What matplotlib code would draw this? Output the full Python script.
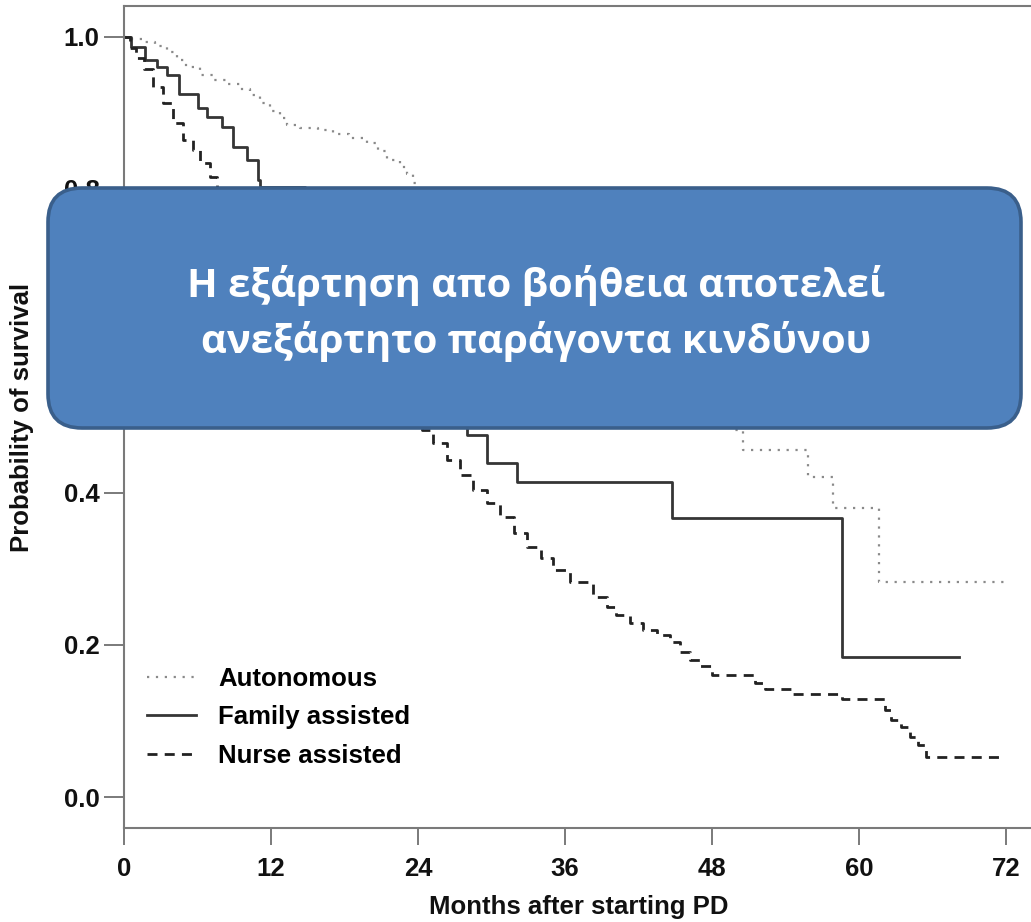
import matplotlib
matplotlib.use("Agg")
import matplotlib.pyplot as plt
from matplotlib.patches import FancyBboxPatch

# Kaplan-Meier survival estimates: month of each step and survival after it
auto_months = [0, 0.5, 1.5, 2.5, 3.5, 4.3, 5.1, 6.2, 7.3, 8.4, 9.5, 10.3, 11.1, 11.9,
               12.7, 13.3, 14.4, 15.8, 17.1, 18.4, 19.8, 20.7, 21.5, 22.5, 23.1, 23.6,
               24.0, 26.0, 28.0, 30.0, 32.0, 34.0, 36.0, 38.0, 40.0, 42.0, 44.0, 46.0,
               48.0, 49.5, 50.5, 55.8, 57.9, 61.6, 71.9]
auto_surv = [1.0, 0.997, 0.993, 0.988, 0.980, 0.970, 0.960, 0.950, 0.943, 0.938, 0.932,
             0.924, 0.913, 0.903, 0.893, 0.884, 0.880, 0.877, 0.873, 0.867, 0.860, 0.850,
             0.838, 0.829, 0.820, 0.808, 0.795, 0.770, 0.740, 0.710, 0.680, 0.660, 0.630,
             0.600, 0.580, 0.560, 0.540, 0.520, 0.500, 0.483, 0.457, 0.421, 0.380, 0.283,
             0.283]

family_months = [0, 0.6, 1.7, 2.7, 3.5, 4.5, 6.0, 6.8, 8.0, 8.9, 10.0, 10.9, 11.1,
                 14.8, 16.5, 18.5, 20.5, 22.5, 24.5, 26.0, 28.0, 29.6, 32.1, 44.7,
                 58.6, 68.2]
family_surv = [1.0, 0.987, 0.970, 0.960, 0.950, 0.925, 0.907, 0.895, 0.882, 0.855,
               0.838, 0.812, 0.803, 0.760, 0.720, 0.680, 0.640, 0.600, 0.560, 0.520,
               0.476, 0.439, 0.414, 0.367, 0.184, 0.184]

nurse_months = [0, 0.5, 1.0, 1.6, 2.4, 3.2, 4.0, 4.8, 5.6, 6.2, 7.0, 7.6, 9.0, 10.5,
                12.0, 13.5, 15.0, 16.5, 18.0, 19.5, 21.0, 22.5, 24.3, 25.2, 26.4, 27.4,
                28.5, 29.6, 30.7, 31.8, 32.9, 34.0, 35.0, 36.4, 38.3, 39.4, 40.2, 41.3,
                42.4, 43.5, 44.6, 45.4, 46.2, 47.0, 48.0, 51.5, 52.3, 54.5, 58.6, 62.1,
                62.6, 63.4, 64.2, 64.8, 65.5, 71.9]
nurse_surv = [1.0, 0.985, 0.972, 0.958, 0.934, 0.913, 0.887, 0.864, 0.851, 0.834, 0.816,
              0.800, 0.775, 0.750, 0.720, 0.690, 0.665, 0.640, 0.610, 0.585, 0.555,
              0.525, 0.483, 0.466, 0.443, 0.424, 0.404, 0.387, 0.368, 0.347, 0.329,
              0.314, 0.299, 0.283, 0.263, 0.250, 0.239, 0.229, 0.220, 0.213, 0.204,
              0.191, 0.180, 0.172, 0.161, 0.150, 0.142, 0.136, 0.129, 0.114, 0.101,
              0.092, 0.079, 0.068, 0.053, 0.053]

x_ticks = [0, 12, 24, 36, 48, 60, 72]
y_ticks = [0.0, 0.2, 0.4, 0.6, 0.8, 1.0]

plt.rcParams['font.family'] = ['Liberation Sans', 'DejaVu Sans']
plt.rcParams['font.weight'] = 'bold'

W, H, DPI = 1031, 922, 100
fig = plt.figure(figsize=(W / DPI, H / DPI), dpi=DPI)
ax = fig.add_axes([124 / W, 94 / H, 910 / W, 822 / H])

ax.step(auto_months, auto_surv, where='post', color='#8a8a8a', lw=1.6,
        linestyle=(0, (1, 3)), label='Autonomous')
ax.step(family_months, family_surv, where='post', color='#353535', lw=2.0,
        label='Family assisted')
ax.step(nurse_months, nurse_surv, where='post', color='#222222', lw=2.0,
        linestyle=(0, (3.6, 2.6)), label='Nurse assisted')

ax.set_xlim(0, 910 / 12.25)
ax.set_ylim(-31 / 760, 1 + 31 / 760)
ax.set_xticks(x_ticks)
ax.set_xticklabels([str(v) for v in x_ticks])
ax.set_yticks(y_ticks)
ax.set_yticklabels([f"{v:.1f}" for v in y_ticks])

spine_col = '#7a7a7a'
for side in ['left', 'bottom', 'top']:
    ax.spines[side].set_color(spine_col)
    ax.spines[side].set_linewidth(1.5)
ax.spines['right'].set_visible(False)
ax.tick_params(axis='both', colors=spine_col, width=1.4, labelcolor='#111111',
               labelsize=18.5, direction='out')
ax.tick_params(axis='x', length=12, pad=9)
ax.tick_params(axis='y', length=14.5, pad=3)

ax.set_xlabel('Months after starting PD', fontsize=18.5, fontweight='bold',
              color='#111111', va='center')
ax.xaxis.set_label_coords(0.5, (828 - 907) / 822)
ax.set_ylabel('Probability of survival', fontsize=18.5, fontweight='bold',
              color='#111111', va='center')
ax.yaxis.set_label_coords((22 - 124) / 910, (828 - 417) / 822)

ax.legend(loc='upper left', bbox_to_anchor=(23 / 910, (828 - 667) / 822),
          frameon=False, borderaxespad=0, borderpad=0, handlelength=1.9,
          handletextpad=0.87, labelspacing=0.56,
          prop={'size': 18.5, 'weight': 'bold'})

# Callout box laid over the middle of the plot
box = FancyBboxPatch((0.48, (H - 428) / DPI), 9.73, 2.40,
                     boxstyle="round,pad=0,rounding_size=0.34",
                     transform=fig.dpi_scale_trans, facecolor='#4f81bd',
                     edgecolor='#3a5f8b', linewidth=2.6, zorder=5)
fig.add_artist(box)

greek_font = ['Open Sans', 'Noto Sans', 'DejaVu Sans']
fig.text(536 / W, 1 - 297 / H, 'Η εξάρτηση απο βοήθεια αποτελεί',
         ha='center', va='baseline', color='white', fontsize=28.8,
         fontweight='bold', family=greek_font, zorder=6)
fig.text(536 / W, 1 - 353 / H, 'ανεξάρτητο παράγοντα κινδύνου',
         ha='center', va='baseline', color='white', fontsize=28.8,
         fontweight='bold', family=greek_font, zorder=6)

fig.savefig('out.png', dpi=DPI)
